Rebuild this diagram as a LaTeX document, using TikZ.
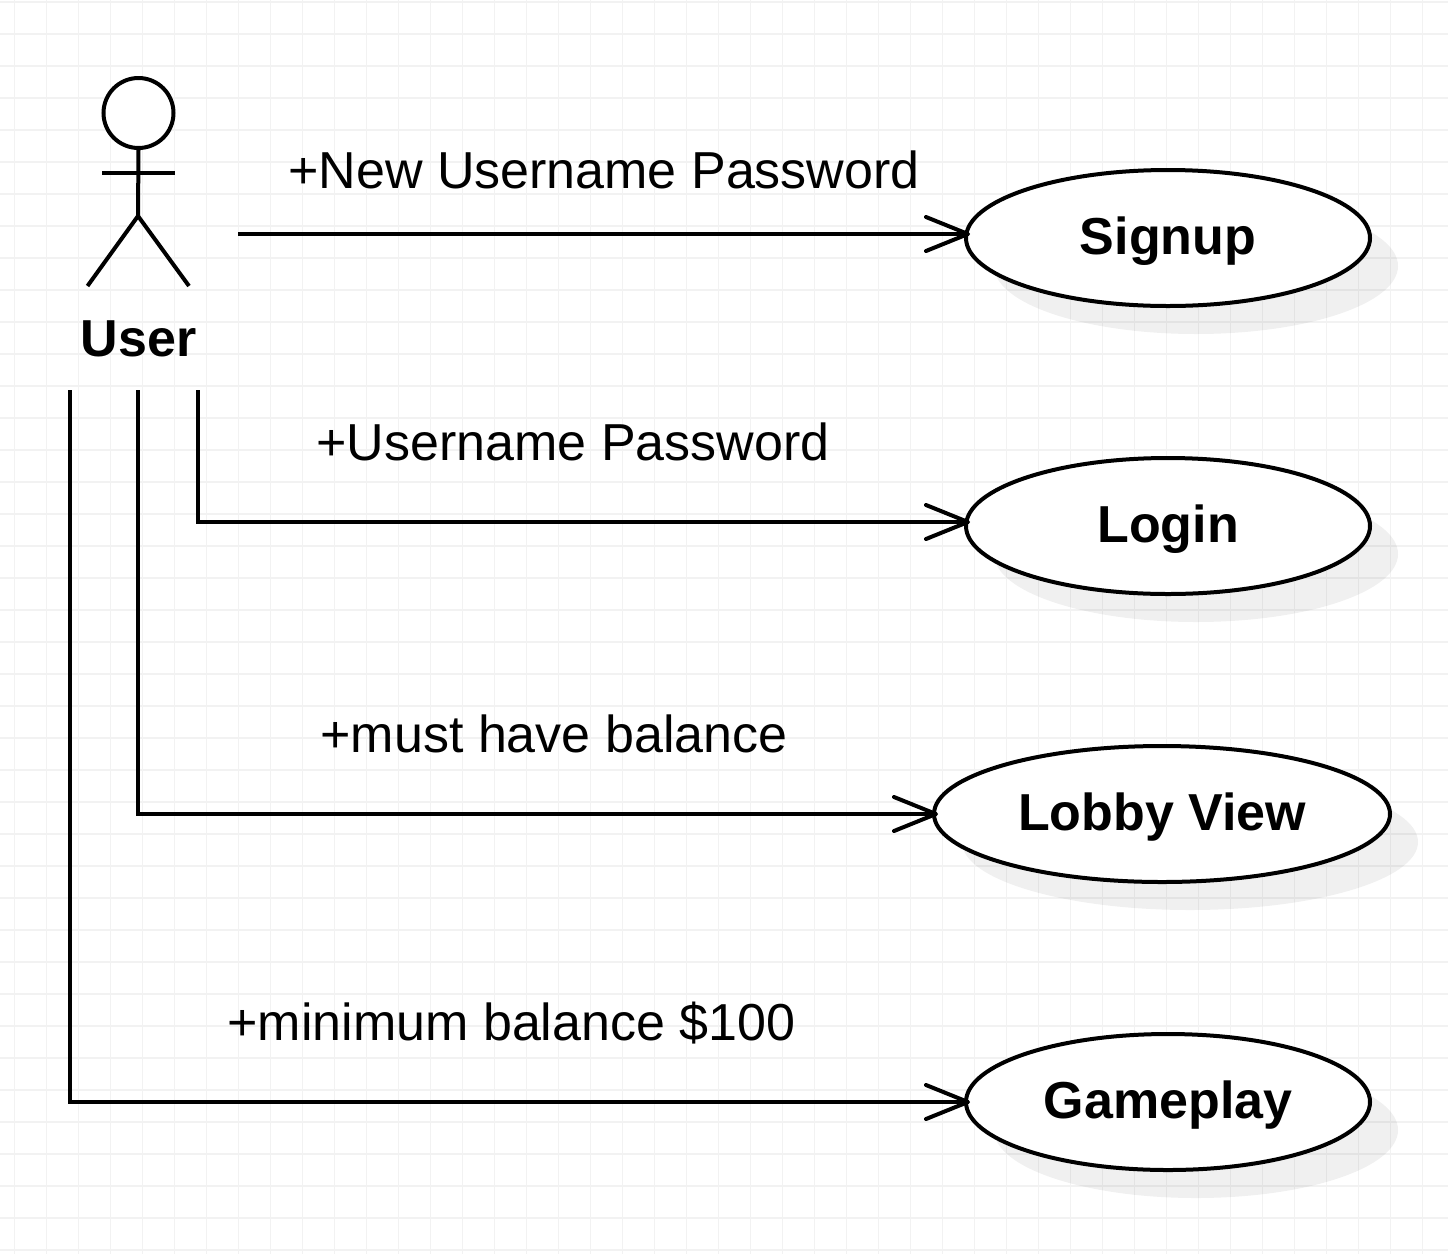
\documentclass[tikz,border=0pt]{standalone}
\usepackage{fontspec}
\setmainfont{Liberation Sans}
\usetikzlibrary{arrows.meta,shapes.geometric,shadows}
\newcommand{\uctext}[1]{\raisebox{0pt}[45pt][12pt]{#1}}
\tikzset{
  gridline/.style={draw=black!5,line width=1.3pt},
  ink/.style={draw=black,line width=4pt},
  usecase/.style={ellipse,ink,fill=white,inner sep=0pt,minimum height=136pt,
    font=\fontsize{52}{60}\selectfont\bfseries,text=black,
    general shadow={fill=black,fill opacity=0.06,draw=none,shadow xshift=28pt,shadow yshift=-28pt}},
  msg/.style={anchor=base,inner sep=0pt,font=\fontsize{52}{60}\selectfont,text=black},
  flow/.style={ink,line join=miter,-{Straight Barb[length=42pt,width=34pt,line width=4pt,round=false]}},
  limb/.style={ink,line cap=butt}
}
\begin{document}
\begin{tikzpicture}[x=1pt,y=-1pt]
\useasboundingbox (0,0) rectangle (1448,1254);
\fill[white] (0,0) rectangle (1448,1254);
\foreach \k in {0,...,44} \draw[gridline] ({14.5+32*\k},0) -- ({14.5+32*\k},1254);
\foreach \k in {0,...,39} \draw[gridline] (0,{2+32*\k}) -- (1448,{2+32*\k});
% use cases
\node[usecase,minimum width=404pt] (signup) at (1168,238) {\uctext{Signup}};
\node[usecase,minimum width=404pt] (login) at (1168,526) {\uctext{Login}};
\node[usecase,minimum width=456pt] (lobby) at (1162,814) {\uctext{Lobby View}};
\node[usecase,minimum width=404pt] (gameplay) at (1168,1102) {\uctext{Gameplay}};
% actor
\node[circle,ink,fill=white,minimum size=70pt,inner sep=0pt] (head) at (138.5,113) {};
\coordinate (hip) at (138,216);
\coordinate (armL) at (102,173);
\coordinate (armR) at (175,173);
\coordinate (legL) at (87.5,286);
\coordinate (legR) at (189,286);
\draw[limb] (head.south) -- (hip);
\draw[limb] (armL) -- (armR);
\draw[limb] (legL) -- (hip) -- (legR);
\node[anchor=base,inner sep=0pt,font=\fontsize{52}{60}\selectfont\bfseries] (user) at (138.5,356) {User};
% connector ends
\coordinate (s0) at (238,234);
\coordinate (s1) at (970,234);
\coordinate (l0) at (198,390);
\coordinate (l1) at (970,522);
\coordinate (b0) at (138,390);
\coordinate (b1) at (938,814);
\coordinate (g0) at (70,390);
\coordinate (g1) at (970,1102);
\draw[flow] (s0) -- (s1);
\draw[flow] (l0) |- (l1);
\draw[flow] (b0) |- (b1);
\draw[flow] (g0) |- (g1);
% labels
\node[msg] (m1) at (604,188) {+New Username Password};
\node[msg] (m2) at (573,460) {+Username Password};
\node[msg] (m3) at (554,752) {+must have balance};
\node[msg] (m4) at (511.5,1040) {+minimum balance \$100};
\end{tikzpicture}
\end{document}
